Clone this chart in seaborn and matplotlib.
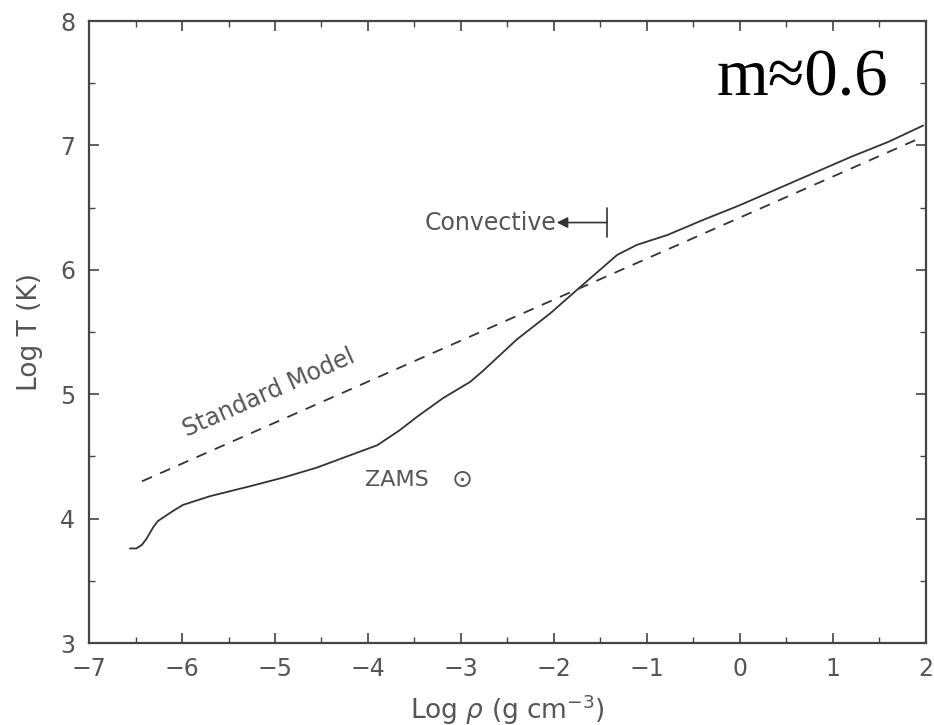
import numpy as np
import pandas as pd
import matplotlib
matplotlib.use("Agg")
import matplotlib.pyplot as plt
from matplotlib.ticker import MultipleLocator
import seaborn as sns

# ZAMS sun (solid)
zams_logrho = [-6.56, -6.49, -6.43, -6.38, -6.31, -6.26, -6.20, -6.10, -5.99, -5.70,
               -5.27, -4.91, -4.55, -4.19, -3.90, -3.66, -3.47, -3.19, -2.90, -2.76,
               -2.40, -2.04, -1.69, -1.32, -1.11, -0.78, -0.40, 0.00, 0.40, 0.83,
               1.20, 1.60, 1.97]
zams_logT = [3.76, 3.76, 3.79, 3.84, 3.93, 3.98, 4.01, 4.06, 4.11, 4.18,
             4.26, 4.33, 4.41, 4.51, 4.59, 4.71, 4.82, 4.97, 5.10, 5.19,
             5.44, 5.65, 5.88, 6.12, 6.20, 6.28, 6.40, 6.52, 6.65, 6.79,
             6.91, 7.03, 7.16]

# Standard model (dashed)
std_logrho = [-6.43, 1.97]
std_logT = [4.30, 7.07]

sns.set_style("ticks")
plt.rcParams['font.family'] = ['DejaVu Sans']

fig = plt.figure(figsize=(9.34, 7.25), dpi=100)
ax = fig.add_axes([0.0953, 0.1131, 0.8961, 0.8579])

gray = "#555555"
sns.lineplot(x=zams_logrho, y=zams_logT, ax=ax, color="#333333", lw=1.3, sort=False)
sns.lineplot(x=std_logrho, y=std_logT, ax=ax, color="#333333", lw=1.3,
             linestyle=(0, (6, 5)))

ax.set_xlim(-7, 2)
ax.set_ylim(3, 8)
ax.xaxis.set_major_locator(MultipleLocator(1))
ax.xaxis.set_minor_locator(MultipleLocator(0.5))
ax.yaxis.set_major_locator(MultipleLocator(1))
ax.yaxis.set_minor_locator(MultipleLocator(0.5))
ax.tick_params(which="both", direction="in", top=True, right=True, color="#444444")
ax.tick_params(which="major", length=7, width=1.2, labelsize=17, labelcolor=gray, pad=10)
ax.tick_params(which="minor", length=4, width=1.0)
for s in ax.spines.values():
    s.set_color("#444444")
    s.set_linewidth(1.6)

ax.set_xlabel(r"Log $\rho$ (g cm$^{-3}$)", fontsize=19, color=gray, labelpad=8)
ax.set_ylabel("Log T (K)", fontsize=19, color=gray, labelpad=12)

# annotations
ax.text(-5.92, 4.62, "Standard Model", rotation=24, fontsize=17, color=gray,
        ha="left", va="bottom", rotation_mode="anchor")
ax.text(-3.69, 4.31, "ZAMS", fontsize=16, color=gray, ha="center", va="center")
ax.text(-2.99, 4.31, "\u2299", fontsize=18, color=gray, ha="center", va="center")
ax.text(-1.97, 6.38, "Convective", fontsize=17, color=gray, ha="right", va="center")
ax.annotate("", xy=(-1.97, 6.38), xytext=(-1.43, 6.38),
            arrowprops=dict(arrowstyle="-|>", color="#333333", lw=1.2,
                            mutation_scale=16, shrinkA=0, shrinkB=0))
ax.plot([-1.43, -1.43], [6.26, 6.50], color="#333333", lw=1.2)

ax.text(0.852, 0.906, "m\u22480.6", transform=ax.transAxes, fontsize=48,
        family="Liberation Serif", color="black", ha="center", va="center")

fig.savefig("out.png", dpi=100)
